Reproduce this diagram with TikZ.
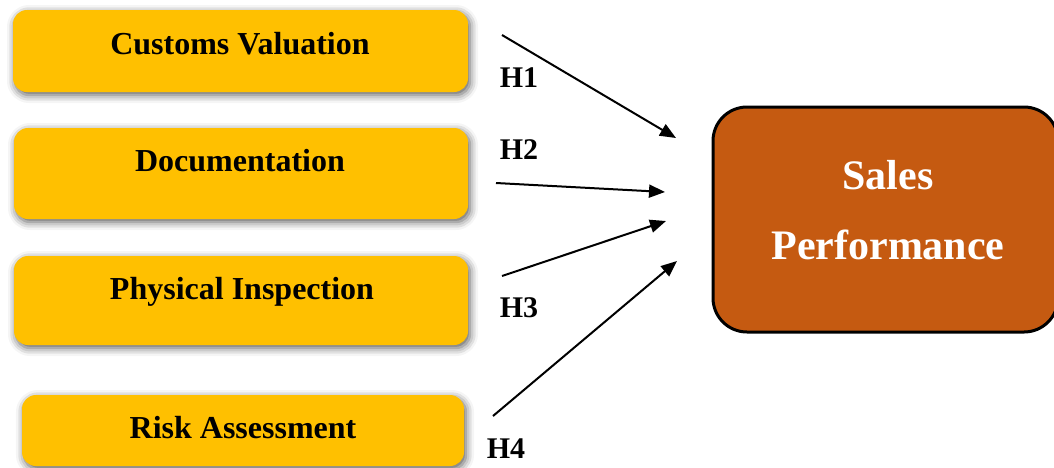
\documentclass[tikz,border=0pt]{standalone}
\usepackage{fontspec}
\setmainfont{Liberation Serif}
\usetikzlibrary{shadows.blur,arrows.meta}
\definecolor{boxyellow}{HTML}{FFC000}
\definecolor{boxorange}{HTML}{C55A11}
\tikzset{
  ivbox/.style={rectangle, rounded corners=14pt, fill=boxyellow, draw=none,
    blur shadow={shadow xshift=2pt, shadow yshift=-3pt, shadow blur radius=8pt, shadow opacity=65},
    inner sep=0pt},
  ivtext/.style={font=\fontsize{32}{36}\selectfont\bfseries},
  dvbox/.style={rectangle, rounded corners=34pt, fill=boxorange, draw=black, line width=3pt,
    inner sep=0pt},
  dvtext/.style={text=white, font=\fontsize{42}{48}\selectfont\bfseries},
  hlab/.style={font=\fontsize{30}{34}\selectfont\bfseries, inner sep=0pt},
  conn/.style={line width=2pt, -{Triangle[length=16pt,width=13pt]}}
}
\begin{document}
\begin{tikzpicture}[x=1pt,y=-1pt]
\useasboundingbox (0,0) rectangle (1054,467);
\node[ivbox, minimum width=455pt, minimum height=82pt] (cv) at (240.5,51) {};
\node[ivtext] (cvt) at (240,44) {Customs Valuation};
\node[ivbox, minimum width=454pt, minimum height=91pt] (doc) at (241,173.5) {};
\node[ivtext] (doct) at (240,161) {Documentation};
\node[ivbox, minimum width=454pt, minimum height=89pt] (pi) at (241,300.5) {};
\node[ivtext] (pit) at (242,292) {Physical Inspection};
\node[ivbox, minimum width=442pt, minimum height=71pt] (ra) at (243,430.5) {};
\node[ivtext] (rat) at (243,428) {Risk Assessment};
\node[dvbox, minimum width=345pt, minimum height=225pt] (sp) at (885.5,219.5) {};
\node[dvtext] (spt1) at (888,175) {Sales};
\node[dvtext] (spt2) at (888,245) {Performance};
\node[hlab] (h1) at (519,78) {H1};
\node[hlab] (h2) at (519,150) {H2};
\node[hlab] (h3) at (519,308) {H3};
\node[hlab] (h4) at (506,449) {H4};
\coordinate (s1) at (502,35);
\coordinate (e1) at (676,138);
\coordinate (s2) at (496,183);
\coordinate (e2) at (665,192);
\coordinate (s3) at (502,276);
\coordinate (e3) at (666,221);
\coordinate (s4) at (493,416);
\coordinate (e4) at (677,261);
\draw[conn] (s1) -- (e1);
\draw[conn] (s2) -- (e2);
\draw[conn] (s3) -- (e3);
\draw[conn] (s4) -- (e4);
\end{tikzpicture}
\end{document}
